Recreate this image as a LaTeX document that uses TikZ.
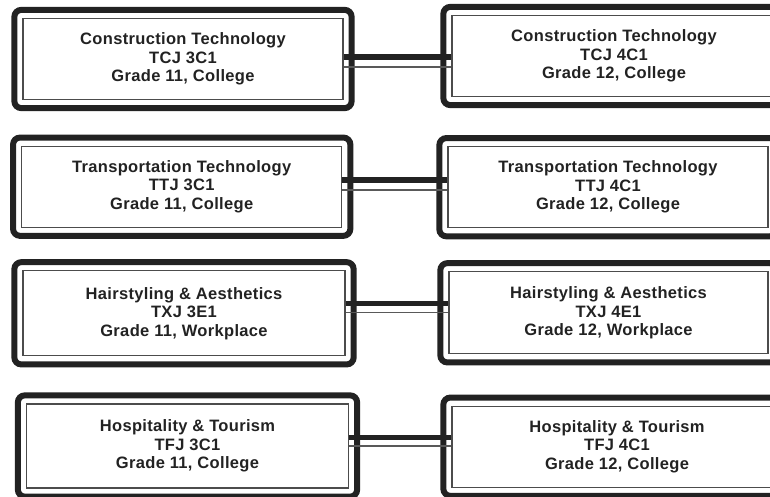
\documentclass[tikz,border=0pt]{standalone}
\usepackage{fontspec}
\setmainfont{Liberation Sans}[LetterSpace=2]
\usetikzlibrary{fit}
\definecolor{ink}{HTML}{222222}
\begin{document}
\begin{tikzpicture}[x=1pt, y=-1pt,
    course/.style={draw=black!70, line width=1.3pt, minimum width=320pt, minimum height=81pt,
      align=center, text=ink, font=\fontsize{16.5}{18.5}\selectfont\bfseries},
    frame/.style={draw=ink, line width=6pt, rounded corners=7pt, inner sep=8pt},
    bar/.style={draw=ink, line width=5.5pt},
    rail/.style={draw=black!65, line width=1.3pt}]
    \useasboundingbox (0,0) rectangle (770,497);
    \clip (0,0) rectangle (770,497);
    % grade 11
    \node[course] (cst3) at (183,59) {Construction Technology\\TCJ 3C1\\Grade 11, College};
    \node[course] (tt3) at (181.7,186.7) {Transportation Technology\\TTJ 3C1\\Grade 11, College};
    \node[course, minimum width=322pt, minimum height=85pt] (hair3) at (184,313.3) {Hairstyling \& Aesthetics\\TXJ 3E1\\Grade 11, Workplace};
    \node[course, minimum width=322pt, minimum height=84pt] (hosp3) at (187.5,446) {Hospitality \& Tourism\\TFJ 3C1\\Grade 11, College};
    % grade 12
    \node[course, minimum width=324pt] (cst4) at (614,56) {Construction Technology\\TCJ 4C1\\Grade 12, College};
    \node[course] (tt4) at (608,187.2) {Transportation Technology\\TTJ 4C1\\Grade 12, College};
    \node[course, minimum width=319pt, minimum height=82pt] (hair4) at (608.5,312.8) {Hairstyling \& Aesthetics\\TXJ 4E1\\Grade 12, Workplace};
    \node[course, minimum width=330pt] (hosp4) at (617,446.7) {Hospitality \& Tourism\\TFJ 4C1\\Grade 12, College};
    % frames
    \node[frame, fit=(cst3)] (cst3f) {};
    \node[frame, fit=(tt3)] (tt3f) {};
    \node[frame, fit=(hair3)] (hair3f) {};
    \node[frame, fit=(hosp3)] (hosp3f) {};
    \node[frame, fit=(cst4)] (cst4f) {};
    \node[frame, fit=(tt4)] (tt4f) {};
    \node[frame, fit=(hair4)] (hair4f) {};
    \node[frame, fit=(hosp4)] (hosp4f) {};
    % links
    \draw[bar] ([yshift=2pt]cst3.east) -- ([yshift=2pt]cst3.east -| cst4.west);
    \draw[rail] ([yshift=-8pt]cst3.east) -- ([yshift=-8pt]cst3.east -| cst4.west);
    \draw[bar] ([yshift=6.7pt]tt3.east) -- ([yshift=6.7pt]tt3.east -| tt4.west);
    \draw[rail] ([yshift=-3.3pt]tt3.east) -- ([yshift=-3.3pt]tt3.east -| tt4.west);
    \draw[bar] ([yshift=10pt]hair3.east) -- ([yshift=10pt]hair3.east -| hair4.west);
    \draw[rail] ([yshift=1pt]hair3.east) -- ([yshift=1pt]hair3.east -| hair4.west);
    \draw[bar] ([yshift=8.7pt]hosp3.east) -- ([yshift=8.7pt]hosp3.east -| hosp4.west);
    \draw[rail] (hosp3.east) -- (hosp3.east -| hosp4.west);
\end{tikzpicture}
\end{document}
